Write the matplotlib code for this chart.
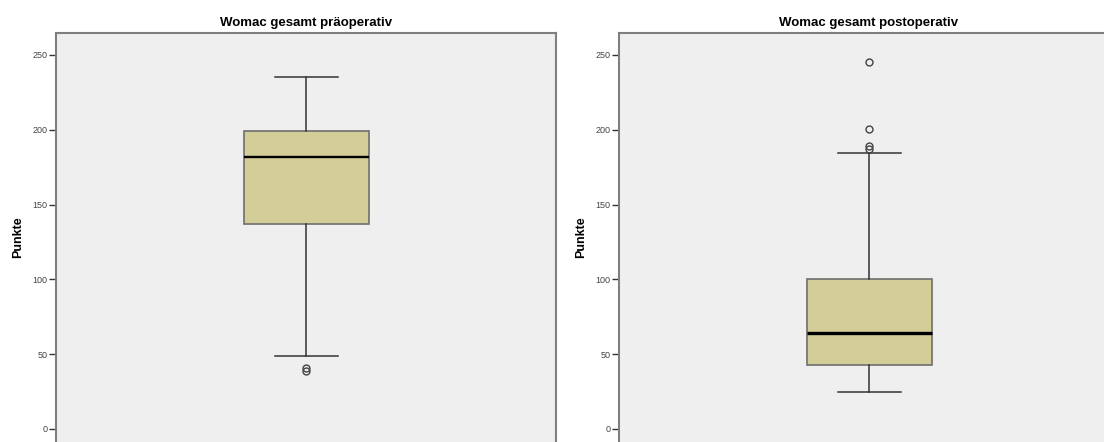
import matplotlib
matplotlib.use("Agg")
import matplotlib.pyplot as plt

plt.rcParams['font.family'] = ['Liberation Sans', 'DejaVu Sans']

# Boxplot summaries (Womac total score, points)
titles = ["Womac gesamt präoperativ", "Womac gesamt postoperativ"]
whislo = [48.5, 24.5]
q1 = [137, 43]
med = [182, 64]
q3 = [199, 100]
whishi = [235.5, 184.5]
fliers = [[41, 39], [245, 200.5, 189, 187]]
yticks = [0, 50, 100, 150, 200, 250]

box_face = "#D3CE98"
panel_bg = "#EFEFEF"
spine_col = "#7F7F7F"
median_lw = [1.7, 2.4]

fig = plt.figure(figsize=(11.04, 4.42), dpi=100)
fig.patch.set_facecolor("white")

positions = [[56 / 1104, 0.0, 500 / 1104, 409 / 442],
             [619 / 1104, 0.0, 500 / 1104, 409 / 442]]

for i in range(2):
    ax = fig.add_axes(positions[i])
    ax.set_facecolor(panel_bg)
    stats = [{
        "whislo": whislo[i], "q1": q1[i], "med": med[i],
        "q3": q3[i], "whishi": whishi[i], "fliers": fliers[i],
    }]
    ax.bxp(stats, positions=[1], widths=0.25, capwidths=0.126,
           patch_artist=True, showfliers=True,
           boxprops=dict(facecolor=box_face, edgecolor="#6E6E6E", linewidth=1.2),
           medianprops=dict(color="black", linewidth=median_lw[i]),
           whiskerprops=dict(color="#333333", linewidth=1.1),
           capprops=dict(color="#333333", linewidth=1.1),
           flierprops=dict(marker="o", markersize=5, markerfacecolor="none",
                           markeredgecolor="#444444", markeredgewidth=1.0))
    ax.set_xlim(0.5, 1.5)
    ax.set_ylim(-8.7, 264.7)
    ax.set_yticks(yticks)
    ax.set_xticks([])
    ax.tick_params(axis="y", direction="out", length=5, width=1,
                   color="#333333", labelsize=6.5, labelcolor="#444444", pad=1)
    for s in ax.spines.values():
        s.set_color(spine_col)
        s.set_linewidth(1.5)
    ax.spines["bottom"].set_visible(False)
    ax.set_title(titles[i], fontsize=9.5, fontweight="bold", pad=5)
    ax.set_ylabel("Punkte", fontsize=9, fontweight="bold", labelpad=6)

fig.savefig("out.png", dpi=100)
